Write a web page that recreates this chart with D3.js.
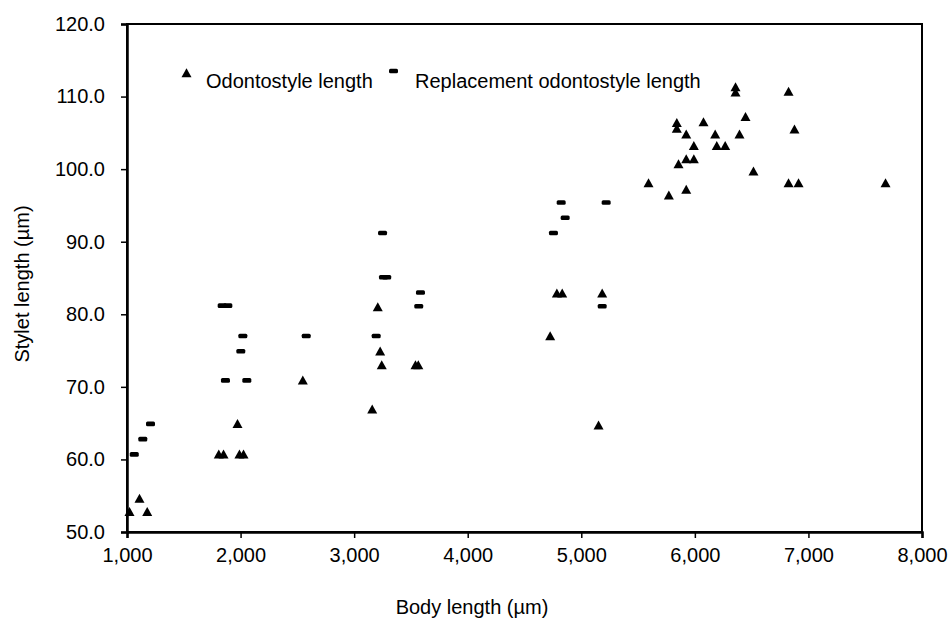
<!DOCTYPE html>
<html>
<head>
<meta charset="utf-8">
<script src="https://cdn.jsdelivr.net/npm/d3@7/dist/d3.min.js"></script>
<style>
  html, body { margin: 0; padding: 0; background: #fff; }
  svg text { font-family: "Liberation Sans", Arial, Helvetica, sans-serif; fill: #000; }
</style>
</head>
<body>
<svg id="chart" width="948" height="621"></svg>
<script>
// Odontostyle length (triangles): body length (µm), stylet length (µm)
const odontoBody = [1022, 1110, 1178, 1808, 1850, 1973, 1990, 2026, 2548,
  3159, 3208, 3229, 3243, 3540, 3565,
  4726, 4785, 4832, 5152, 5184,
  5592, 5771, 5841, 5841, 5856, 5924, 5924, 5924, 5991, 5991, 6076, 6179, 6193, 6267,
  6358, 6358, 6393, 6446, 6516, 6825, 6825, 6877, 6913, 7679];
const odontoStylet = [52.8, 54.6, 52.8, 60.7, 60.7, 64.9, 60.7, 60.7, 70.9,
  66.9, 81.0, 74.9, 73.0, 73.0, 73.0,
  77.0, 82.9, 82.9, 64.7, 82.9,
  98.1, 96.4, 106.4, 105.6, 100.7, 104.8, 101.4, 97.2, 103.2, 101.4, 106.5, 104.8, 103.2, 103.2,
  111.3, 110.6, 104.8, 107.2, 99.7, 110.7, 98.1, 105.5, 98.1, 98.1];

// Replacement odontostyle length (dashes)
const replBody = [1064, 1139, 1207, 1838, 1888, 1867, 2002, 2020, 2055, 2578,
  3194, 3250, 3258, 3287, 3569, 3584,
  4755, 4823, 4858, 5184, 5219];
const replStylet = [60.7, 62.8, 64.9, 81.2, 81.2, 70.9, 74.9, 77.0, 70.9, 77.0,
  77.0, 91.2, 85.1, 85.1, 81.1, 83.0,
  91.2, 95.4, 93.3, 81.1, 95.4];

const xTicks = [1000, 2000, 3000, 4000, 5000, 6000, 7000, 8000];
const yTicks = [50, 60, 70, 80, 90, 100, 110, 120];
const seriesNames = ["Odontostyle length", "Replacement odontostyle length"];
const xTitle = "Body length (µm)";
const yTitle = "Stylet length (µm)";

const W = 948, H = 621;
const margin = {left: 127, right: 26, top: 24, bottom: 89};
const svg = d3.select("#chart");

const x = d3.scaleLinear().domain([1000, 8000]).range([margin.left, W - margin.right]);
const y = d3.scaleLinear().domain([50, 120]).range([H - margin.bottom, margin.top]);

// plot border
svg.append("rect")
  .attr("x", x(1000)).attr("y", y(120))
  .attr("width", x(8000) - x(1000)).attr("height", y(50) - y(120))
  .attr("fill", "none").attr("stroke", "#000").attr("stroke-width", 2);

// axes
const xAxis = d3.axisBottom(x).tickValues(xTicks).tickFormat(d3.format(",")).tickSize(6).tickPadding(10);
const gx = svg.append("g").attr("transform", `translate(0,${y(50)})`).call(xAxis);
gx.select(".domain").attr("stroke-width", 2.5);
gx.selectAll(".tick line").attr("stroke-width", 1.5);
gx.selectAll("text").attr("font-size", 20).attr("font-family", "Liberation Sans, Arial, sans-serif");

const yAxis = d3.axisLeft(y).tickValues(yTicks).tickFormat(d3.format(".1f")).tickSize(6).tickPadding(16);
const gy = svg.append("g").attr("transform", `translate(${x(1000)},0)`).call(yAxis);
gy.select(".domain").attr("stroke-width", 2.5);
gy.selectAll(".tick line").attr("stroke-width", 1.5);
gy.selectAll("text").attr("font-size", 20).attr("font-family", "Liberation Sans, Arial, sans-serif");

// axis titles
svg.append("text").attr("x", 472).attr("y", 614)
  .attr("text-anchor", "middle").attr("font-size", 20).text(xTitle);
svg.append("text").attr("transform", "translate(29,284) rotate(-90)")
  .attr("text-anchor", "middle").attr("font-size", 20).text(yTitle);

const triPath = "M0,-4.8L5,4.2L-5,4.2Z";

// odontostyle triangles
const odonto = odontoBody.map((b, i) => ({b, s: odontoStylet[i]}));
svg.append("g").selectAll("path").data(odonto).join("path")
  .attr("d", triPath)
  .attr("transform", d => `translate(${x(d.b)},${y(d.s)})`)
  .attr("fill", "#000");

// replacement dashes
const repl = replBody.map((b, i) => ({b, s: replStylet[i]}));
svg.append("g").selectAll("rect").data(repl).join("rect")
  .attr("x", d => x(d.b) - 4.5).attr("y", d => y(d.s) - 2.3)
  .attr("width", 9).attr("height", 4.6).attr("rx", 1.5)
  .attr("fill", "#000");

// legend
const leg = svg.append("g");
leg.append("path").attr("d", triPath).attr("transform", "translate(186.5,73)").attr("fill", "#000");
leg.append("text").attr("x", 206).attr("y", 88).attr("font-size", 20).text(seriesNames[0]);
leg.append("rect").attr("x", 389).attr("y", 68.7).attr("width", 9).attr("height", 4.6).attr("rx", 1.5).attr("fill", "#000");
leg.append("text").attr("x", 415).attr("y", 88).attr("font-size", 20).text(seriesNames[1]);
</script>
</body>
</html>
